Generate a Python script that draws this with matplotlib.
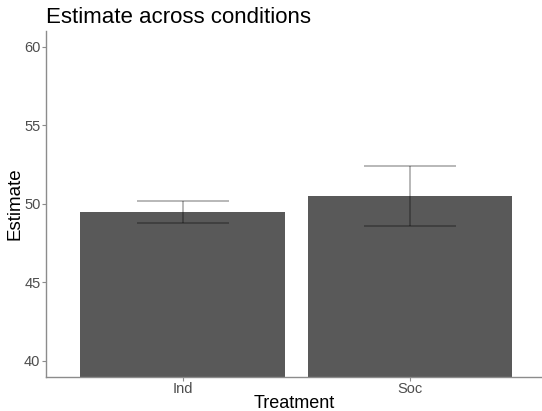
import matplotlib.pyplot as plt
import numpy as np

plt.rcParams['font.family'] = ['Liberation Sans', 'DejaVu Sans']

# Mean estimate per treatment with lower/upper error limits
treatments = ['Ind', 'Soc']
estimate = [49.51, 50.52]
err_low = [48.81, 48.62]
err_high = [50.20, 52.41]

fig = plt.figure(figsize=(5.42, 4.11), dpi=100)
ax = fig.add_axes([46 / 542, 34.3 / 411, 1 - 46 / 542, 345.7 / 411])

x = np.arange(1, len(treatments) + 1)
ax.bar(x, estimate, width=0.9, color='#595959', zorder=2)

est = np.array(estimate)
yerr = [est - np.array(err_low), np.array(err_high) - est]
ax.errorbar(x, est, yerr=yerr, fmt='none', ecolor='black', alpha=0.3,
            elinewidth=1.3, capsize=33, capthick=1.3, zorder=3)

ax.set_xlim(0.4, 2.58)
ax.set_ylim(39, 61)
ax.set_yticks([40, 45, 50, 55, 60])
ax.set_xticks(x)
ax.set_xticklabels(treatments)

for side in ['top', 'right']:
    ax.spines[side].set_visible(False)
for side in ['left', 'bottom']:
    ax.spines[side].set_color('#8c8c8c')
    ax.spines[side].set_linewidth(1.0)

ax.tick_params(axis='both', colors='#8c8c8c', labelcolor='#4d4d4d',
               labelsize=10.5, length=3, width=0.8, pad=1)

ax.set_xlabel('Treatment', fontsize=13, color='black', labelpad=-1)
ax.set_ylabel('Estimate', fontsize=13.5, color='black', labelpad=0.5)
ax.set_title('Estimate across conditions', fontsize=16, loc='left',
             color='black', pad=6)

fig.savefig('out.png', dpi=100)
